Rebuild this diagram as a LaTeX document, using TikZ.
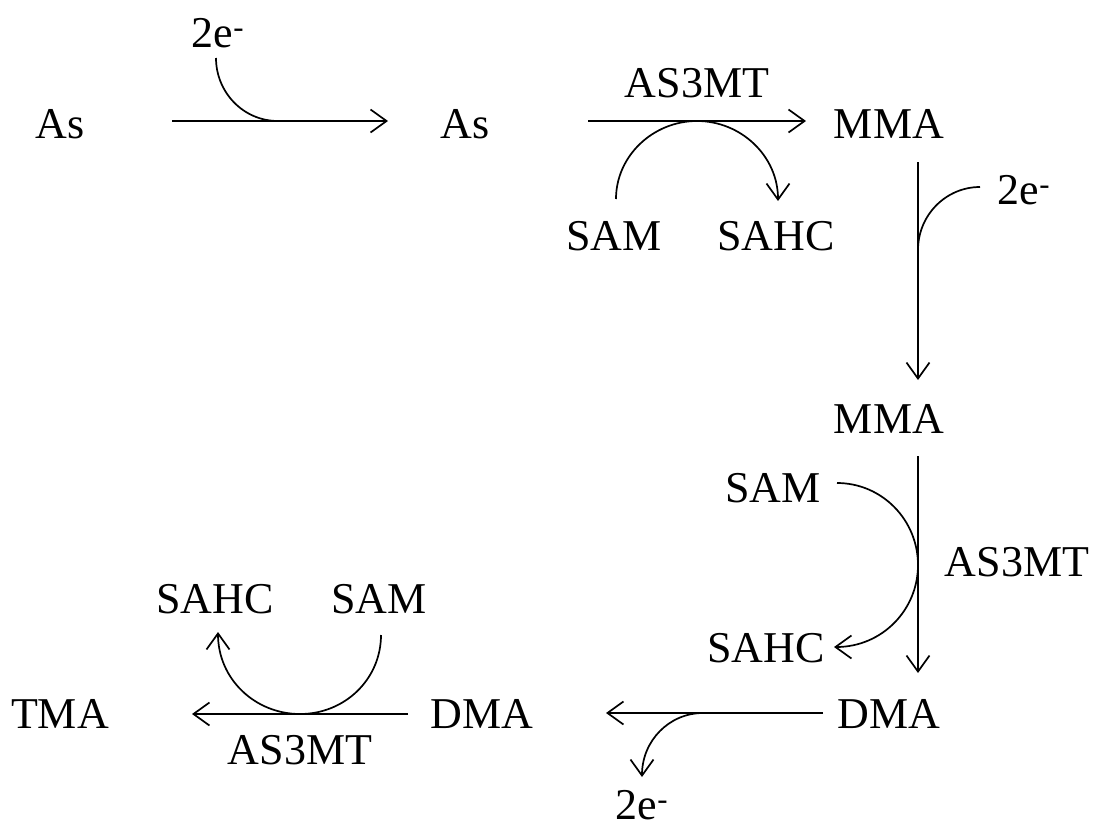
\documentclass[tikz,border=0pt]{standalone}
\usepackage{fontspec}
\setmainfont{Liberation Serif}
\usetikzlibrary{arrows.meta}
\begin{document}
\begin{tikzpicture}[x=1pt,y=-1pt,
  lbl/.style={anchor=base,inner sep=0pt,font=\fontsize{44}{52}\selectfont},
  flow/.style={line width=1.7pt,-{Straight Barb[length=16pt,width=23pt,line width=1.7pt]}},
  feed/.style={line width=1.7pt}]
\useasboundingbox (0,0) rectangle (1096,831);

% species and cofactors
\node[lbl] (as1)   at (60,138)   {As};
\node[lbl] (as2)   at (465,138)  {As};
\node[lbl] (mma1)  at (889,138)  {MMA};
\node[lbl] (mma2)  at (889,433)  {MMA};
\node[lbl] (dma1)  at (889,728)  {DMA};
\node[lbl] (dma2)  at (482,728)  {DMA};
\node[lbl] (tma)   at (60,728)   {TMA};

\node[lbl] (e1)    at (218,47)   {2e\textsuperscript{-}};
\node[lbl] (e2)    at (1024,204) {2e\textsuperscript{-}};
\node[lbl] (e3)    at (642,819)  {2e\textsuperscript{-}};

\node[lbl] (mt1)   at (697,97)   {AS3MT};
\node[lbl] (mt2)   at (1017,576) {AS3MT};
\node[lbl] (mt3)   at (300,764)  {AS3MT};

\node[lbl] (sam1)  at (614,250)  {SAM};
\node[lbl] (sahc1) at (776,250)  {SAHC};
\node[lbl] (sam2)  at (773,502)  {SAM};
\node[lbl] (sahc2) at (766,662)  {SAHC};
\node[lbl] (sam3)  at (379,613)  {SAM};
\node[lbl] (sahc3) at (215,613)  {SAHC};

% arrow end points
\coordinate (a1s) at (172,121);  \coordinate (a1e) at (388,121);
\coordinate (a2s) at (588,121);  \coordinate (a2e) at (806,121);
\coordinate (a3s) at (918,162);  \coordinate (a3e) at (918,380);
\coordinate (a4s) at (918,456);  \coordinate (a4e) at (918,673);
\coordinate (a5s) at (823,713);  \coordinate (a5e) at (606,713);
\coordinate (a6s) at (408,714);  \coordinate (a6e) at (192,714);

% main reaction arrows
\draw[flow] (a1s) -- (a1e);
\draw[flow] (a2s) -- (a2e);
\draw[flow] (a3s) -- (a3e);
\draw[flow] (a4s) -- (a4e);
\draw[flow] (a5s) -- (a5e);
\draw[flow] (a6s) -- (a6e);

% reductions (2e-)
\coordinate (r1) at (216,58);
\draw[feed] (r1) .. controls (216,92) and (243,121) .. (278,121);
\coordinate (r2) at (980,187);
\draw[feed] (r2) .. controls (946,187) and (918,215) .. (918,250);
\coordinate (r3) at (703,713);
\draw[flow] (r3) .. controls (669,713) and (642,741) .. (642,777);

% methylations (SAM -> SAHC)
\coordinate (m1s) at (616,199);  \coordinate (m1e) at (778,201);
\draw[flow] (m1s) .. controls (616,156) and (653,121) .. (697,121)
                  .. controls (741,121) and (778,156) .. (m1e);
\coordinate (m2s) at (837,483);  \coordinate (m2e) at (834,647);
\draw[flow] (m2s) .. controls (882,483) and (918,520) .. (918,565)
                  .. controls (918,610) and (882,647) .. (m2e);
\coordinate (m3s) at (381,635);  \coordinate (m3e) at (218,632);
\draw[flow] (m3s) .. controls (381,679) and (345,714) .. (300,714)
                  .. controls (255,714) and (218,679) .. (m3e);
\end{tikzpicture}
\end{document}
